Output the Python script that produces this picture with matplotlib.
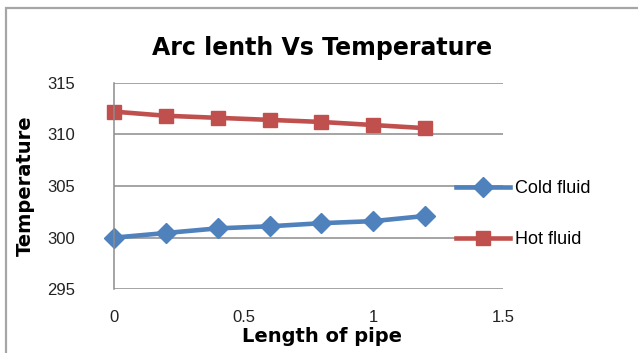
import numpy as np
import matplotlib.pyplot as plt
from matplotlib.patches import Rectangle
from matplotlib.lines import Line2D

# Data
lengde = [0, 0.2, 0.4, 0.6, 0.8, 1.0, 1.2]
kald = [300.0, 300.45, 300.9, 301.1, 301.4, 301.6, 302.1]
varm = [312.2, 311.8, 311.6, 311.4, 311.2, 310.9, 310.6]
xticks = [0, 0.5, 1, 1.5]
yticks = [295, 300, 305, 310, 315]

blaa = '#4F81BD'
raud = '#C0504D'
grid_c = '#8c8c8c'

plt.rcParams['font.family'] = ['Liberation Sans', 'DejaVu Sans']

fig = plt.figure(figsize=(6.38, 3.53), dpi=100)

# Ramme rundt diagramområdet
fig.patches.append(Rectangle((6/638, -0.1), 1.1, 1 - 8/353 + 0.1,
                             transform=fig.transFigure, fill=False,
                             edgecolor='#a6a6a6', linewidth=1.6))

ax = fig.add_axes([114/638, 1 - 289.3/353, (503 - 114)/638, (289.3 - 82.7)/353])
ax.set_xlim(0, 1.5)
ax.set_ylim(295, 315)
ax.set_xticks(xticks)
ax.set_xticklabels(['0', '0.5', '1', '1.5'])
ax.set_yticks(yticks)
ax.tick_params(length=0, labelsize=12, colors='#222222')
ax.tick_params(axis='y', pad=28)
ax.tick_params(axis='x', pad=15)
ax.yaxis.grid(True, color=grid_c, linewidth=1.1)
ax.set_axisbelow(True)
for s in ['top', 'right', 'bottom']:
    ax.spines[s].set_visible(False)
ax.spines['left'].set_color(grid_c)
ax.spines['left'].set_linewidth(1.1)

ax.plot(lengde, kald, '-D', color=blaa, linewidth=3.3, markersize=10, clip_on=False)
ax.plot(lengde, varm, '-s', color=raud, linewidth=3.3, markersize=10.5, clip_on=False)

fig.text(322/638, 1 - 48/353, 'Arc lenth Vs Temperature', ha='center', va='center',
         fontsize=17, fontweight='bold', family='DejaVu Sans')
fig.text(322/638, 1 - 337/353, 'Length of pipe', ha='center', va='center',
         fontsize=14, fontweight='bold', family='DejaVu Sans')
fig.text(25/638, 1 - 186/353, 'Temperature', ha='center', va='center',
         rotation=90, fontsize=14, fontweight='bold', family='DejaVu Sans')

# Forklaring
handles = [Line2D([], [], color=blaa, marker='D', linewidth=3.3, markersize=10),
           Line2D([], [], color=raud, marker='s', linewidth=3.3, markersize=10.5)]
fig.legend(handles, ['Cold fluid', 'Hot fluid'], loc='center left',
           bbox_to_anchor=(440/638, 1 - 214/353), frameon=False, fontsize=13,
           handlelength=3.0, handletextpad=0.25, labelspacing=1.9)

fig.savefig('out.png', dpi=100)
